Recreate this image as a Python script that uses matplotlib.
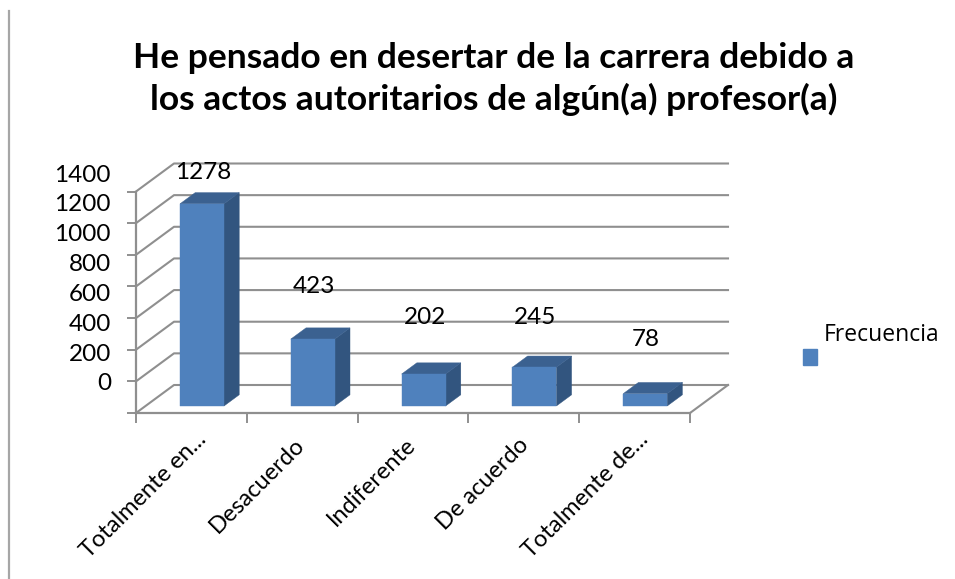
import matplotlib
matplotlib.use("Agg")
import matplotlib.pyplot as plt
from matplotlib.lines import Line2D
from matplotlib.patches import Patch
from matplotlib.transforms import Affine2D

categories = ["Totalmente en...", "Desacuerdo", "Indiferente", "De acuerdo", "Totalmente de..."]
frecuencia = [1278, 423, 202, 245, 78]
y_ticks = [0, 200, 400, 600, 800, 1000, 1200, 1400]
series_name = "Frecuencia"
title = "He pensado en desertar de la carrera debido a\nlos actos autoritarios de algún(a) profesor(a)"

W, H = 955, 579
GRID = "#8f8f8f"
FRONT, SIDE, TOP = "#4f81bd", "#32557f", "#3b6190"

plt.rcParams["font.family"] = ["Lato", "DejaVu Sans"]

fig = plt.figure(figsize=(W / 100, H / 100), dpi=100)

# front plane of the fake 3d box, pixels -> figure fractions
ax = fig.add_axes([136 / W, (H - 413) / H, 554 / W, 221.5 / H])
ax.set_xlim(0, 5)
ax.set_ylim(0, 1400)
ax.patch.set_alpha(0)

# oblique offset for depth 1
dx = 38 / (554 / 5)
dy = 28 / (221.5 / 1400)


def proj(x, v, d):
    return x + d * dx, v + d * dy


# walls
for v in y_ticks:
    x0, y0 = proj(0, v, 0)
    x1, y1 = proj(0, v, 1)
    x2, y2 = proj(5, v, 1)
    ax.plot([x0, x1, x2], [y0, y1, y2], color=GRID, lw=1.5, clip_on=False, zorder=1)
x0, y0 = proj(5, 0, 0)
x1, y1 = proj(5, 0, 1)
ax.plot([x0, x1], [y0, y1], color=GRID, lw=1.5, clip_on=False, zorder=1)

# bars
bar_w = 0.397
d0, d1 = 0.25, 0.65
for i, val in enumerate(frecuencia):
    xl = i + 0.51 - bar_w / 2
    xr = xl + bar_w
    front = [proj(xl, 0, d0), proj(xr, 0, d0), proj(xr, val, d0), proj(xl, val, d0)]
    side = [proj(xr, 0, d0), proj(xr, 0, d1), proj(xr, val, d1), proj(xr, val, d0)]
    top = [proj(xl, val, d0), proj(xr, val, d0), proj(xr, val, d1), proj(xl, val, d1)]
    for pts, col in [(side, SIDE), (top, TOP), (front, FRONT)]:
        ax.fill(*zip(*pts), color=col, lw=0.3, clip_on=False, zorder=3)

# data labels sit above the bars, offsets in px
label_pads = [31, 53, 57, 50, 54]
for i, val in enumerate(frecuencia):
    xp, yp = proj(i + 0.5, val, d0)
    ax.annotate(str(val), (xp, yp), xytext=(1.5, label_pads[i] * 0.72),
                textcoords="offset points", ha="center", va="center",
                fontsize=17.5, color="black", annotation_clip=False, zorder=5)

# axes
for s in ["top", "right"]:
    ax.spines[s].set_visible(False)
for s in ["left", "bottom"]:
    ax.spines[s].set_color(GRID)
    ax.spines[s].set_linewidth(1.6)
    ax.spines[s].set_zorder(2)
ax.set_yticks(y_ticks)
ax.set_yticklabels([])
ax.tick_params(axis="y", length=6.5, width=1.4, color=GRID)
ax.set_xticks(range(6))
ax.set_xticklabels([])
ax.set_xticks([i + 0.5 for i in range(5)], minor=True)
ax.set_xticklabels(categories, minor=True, rotation=45, ha="right", rotation_mode="anchor",
                   fontsize=17)
ax.tick_params(axis="x", which="major", length=7, width=1.4, color=GRID)
ax.tick_params(axis="x", which="minor", length=0, pad=15)

# the cut off labels end further up and right than the others
label_shift = [(4, 5), (-8, 0), (-8, 0), (-6, 0), (3, 5)]
for lbl, (sx, sy) in zip(ax.get_xticklabels(minor=True), label_shift):
    lbl.set_transform(lbl.get_transform() + Affine2D().translate(sx, sy))

# value labels do not line up with the front ticks in the original
lab = fig.add_axes([111 / W, (H - 382) / H, 1 / W, 209 / H])
lab.set_ylim(0, 1400)
lab.set_xticks([])
lab.set_yticks(y_ticks)
lab.tick_params(axis="y", length=0, pad=0, labelsize=17.5)
lab.patch.set_alpha(0)
for s in lab.spines.values():
    s.set_visible(False)

fig.text(494 / W, 1 - 79 / H, title, ha="center", va="center", fontsize=25.5,
         fontweight="bold", linespacing=1.32)

leg = fig.legend(handles=[Patch(color=FRONT, label=series_name)], loc="center left",
                 bbox_to_anchor=(782 / W, 1 - 359 / H), frameon=False,
                 prop={"family": "Open Sans", "size": 16.5},
                 handlelength=0.64, handleheight=0.64, handletextpad=0.3)
leg.get_texts()[0].set_position((0, 24))

# frame edge left over from the slide
fig.add_artist(Line2D([8.5 / W, 8.5 / W], [1 - 11 / H, 0], color="#a6a6a6", lw=1.6))

fig.savefig("out.png", dpi=100)
